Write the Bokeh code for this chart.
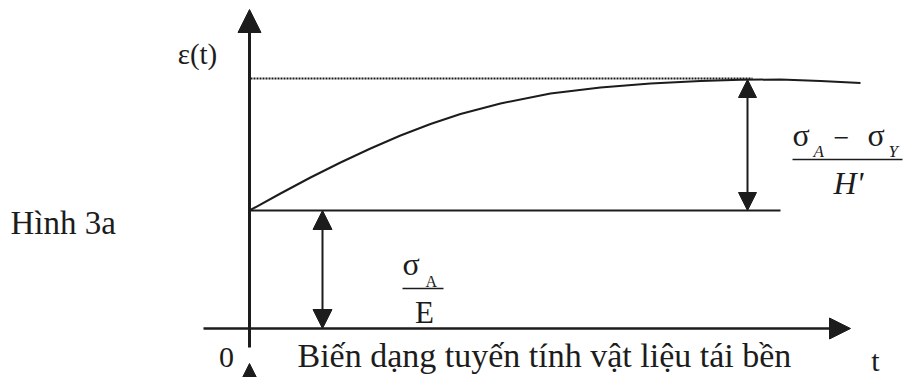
from bokeh.plotting import figure
from bokeh.models import Range1d, Arrow, NormalHead, Label
from bokeh.embed import file_html
from bokeh.resources import INLINE

# ---- data (t, epsilon in diagram units; origin at axes crossing) ----
curve_t = [0, 31, 61, 91, 121, 151, 181, 211, 251, 301, 351, 401, 451, 491, 531, 571, 611]
curve_eps = [118, 135, 151, 166, 180, 193, 204.5, 214.5, 225, 235, 241, 245, 247.5, 248.7, 249, 247.5, 245.5]
elastic_level = 118      # sigma_A / E
asymptote_level = 250    # dotted limit
peak_level = 249         # top of right dimension arrow
elastic_line_t = [0, 531]
asymptote_t = [1, 503]
dim_left_t = 73
dim_right_t = 498

y_axis_label = "ε(t)"
x_axis_label = "t"
origin_label = "0"
caption = "Biến dạng tuyến tính vật liệu tái bền"
figure_label = "Hình 3a"

INK = "#1c1c1c"
SERIF = "Liberation Serif"

p = figure(width=905, height=377, x_range=Range1d(-249, 656), y_range=Range1d(-49, 328),
           output_backend="svg", toolbar_location=None, min_border=0,
           x_axis_location=None, y_axis_location=None)
p.grid.visible = False
p.outline_line_color = None
p.background_fill_color = "white"
p.border_fill_color = "white"

# curve
p.line(curve_t, curve_eps, line_color=INK, line_width=2)
# elastic level line
p.line(elastic_line_t, [elastic_level, elastic_level], line_color=INK, line_width=2)
# dotted asymptote
p.line(asymptote_t, [asymptote_level, asymptote_level], line_color=INK, line_width=2, line_dash="2 1")

def head(size):
    return NormalHead(size=size, fill_color=INK, line_color=INK, line_width=1)

# axes
p.add_layout(Arrow(x_start=0, y_start=-19, x_end=0, y_end=319, end=head(23),
                   line_color=INK, line_width=3))
p.add_layout(Arrow(x_start=-46, y_start=0, x_end=601, y_end=0, end=head(21),
                   line_color=INK, line_width=2.5))
# partial arrow at the bottom (from figure below)
p.add_layout(Arrow(x_start=0, y_start=-70, x_end=0, y_end=-35, end=head(17),
                   line_color=INK, line_width=3))
# dimension arrows
p.add_layout(Arrow(x_start=dim_left_t, y_start=0, x_end=dim_left_t, y_end=elastic_level,
                   start=head(19), end=head(19), line_color=INK, line_width=2))
p.add_layout(Arrow(x_start=dim_right_t, y_start=elastic_level, x_end=dim_right_t, y_end=peak_level,
                   start=head(18), end=head(18), line_color=INK, line_width=2))

def lab(x, y, text, size, align="left", style="normal"):
    # y is the intended baseline; shift for how the label is anchored when rendered
    p.add_layout(Label(x=x, y=y + 0.38 * size, text=text, text_font=SERIF,
                       text_font_size=f"{size}px", text_align=align,
                       text_baseline="alphabetic", text_font_style=style,
                       text_color=INK))

lab(-52, 263, y_axis_label, 29, align="center")
lab(-239, 93, figure_label, 33)
lab(-23, -40, origin_label, 30, align="center")
lab(48, -40, caption, 34)
lab(626, -43, x_axis_label, 30, align="center")

# sigma_A / E
lab(153, 52, "σ", 32)
lab(176, 41, "A", 16)
p.line([153, 194], [40, 40], line_color=INK, line_width=1.5)
lab(175, 4, "E", 31, align="center")

# (sigma_A - sigma_Y) / H'
lab(543, 181, "σ", 32)
lab(564, 171, "A", 17, style="italic")
lab(592, 180, "−", 28, align="center")
lab(618, 181, "σ", 32)
lab(639, 171, "Y", 17, style="italic")
p.line([543, 653], [169, 169], line_color=INK, line_width=1.5)
lab(584, 133, "H'", 32, style="italic")

open("out.html", "w").write(file_html(p, INLINE))
